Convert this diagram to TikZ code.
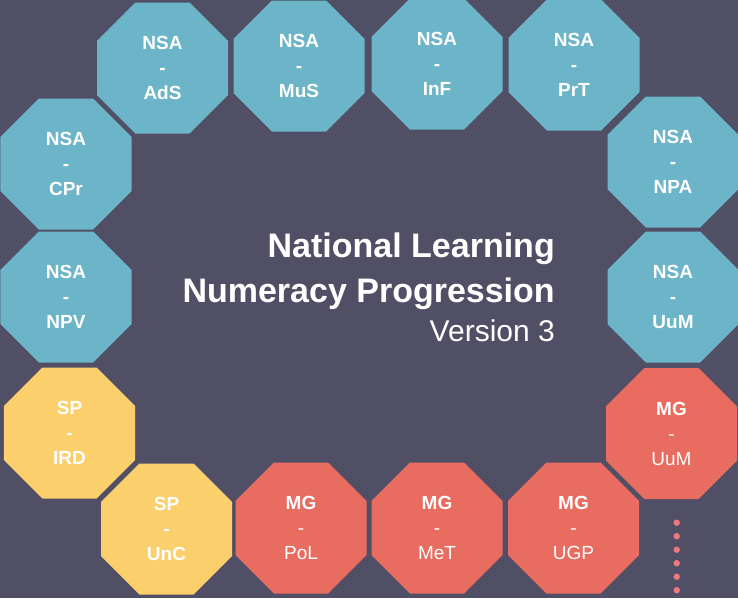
\documentclass[tikz,border=0pt]{standalone}
\usepackage{fontspec}
\setmainfont{Liberation Sans}
\usepackage{tikz}
\usetikzlibrary{shapes.geometric}

\definecolor{bgcol}{HTML}{514F66}
\definecolor{nsacol}{HTML}{6CB4C8}
\definecolor{spcol}{HTML}{FBCF6B}
\definecolor{mgcol}{HTML}{E86C60}
\definecolor{dotcol}{HTML}{EE7A80}

\begin{document}
\begin{tikzpicture}[x=1pt,y=-1pt]

\tikzset{oct/.style = {shape=regular polygon,regular polygon sides=8,minimum size=141.8pt,inner sep=0pt,text=white,align=center}}
\tikzset{nsa/.style = {oct,fill=nsacol,font=\fontsize{19}{25}\selectfont\bfseries}}
\tikzset{sp/.style = {oct,fill=spcol,font=\fontsize{19}{25}\selectfont\bfseries}}
\tikzset{mg/.style = {oct,fill=mgcol,font=\fontsize{19}{25}\selectfont}}
\tikzset{title/.style = {text=white,anchor=base east,inner sep=0pt}}

\fill[bgcol] (0,0) rectangle (738,598);
\useasboundingbox (0,0) rectangle (738,598);

%number and algebra
\node[nsa] (ads) at (162.5,68) {NSA\\-\\AdS};
\node[nsa] (mus) at (299,66) {NSA\\-\\MuS};
\node[nsa] (inf) at (437,64) {NSA\\-\\InF};
\node[nsa] (prt) at (574,65) {NSA\\-\\PrT};
\node[nsa] (cpr) at (66,164) {NSA\\-\\CPr};
\node[nsa] (npv) at (66,297) {NSA\\-\\NPV};
\node[nsa] (npa) at (673,162) {NSA\\-\\NPA};
\node[nsa] (uumn) at (673,297) {NSA\\-\\UuM};
%statistics and probability
\node[sp] (ird) at (69.5,433) {SP\\-\\IRD};
\node[sp] (unc) at (166.5,529) {SP\\-\\UnC};
%measurement and geometry
\node[mg] (pol) at (301,528) {\textbf{MG}\\-\\PoL};
\node[mg] (met) at (437,528) {\textbf{MG}\\-\\MeT};
\node[mg] (ugp) at (573.5,528) {\textbf{MG}\\-\\UGP};
\node[mg] (uumm) at (671.5,433.5) {\textbf{MG}\\-\\UuM};

%title
\node[title,font=\fontsize{34}{34}\selectfont\bfseries] (t1) at (555,257) {National Learning};
\node[title,font=\fontsize{34}{34}\selectfont\bfseries] (t2) at (555,302) {Numeracy Progression};
\node[title,font=\fontsize{30}{30}\selectfont] (t3) at (555,341) {Version 3};

%dots
\foreach \i in {0,...,5}
  \fill[dotcol] (676.7,522.7+13.5*\i) circle (3.2);

\end{tikzpicture}
\end{document}
